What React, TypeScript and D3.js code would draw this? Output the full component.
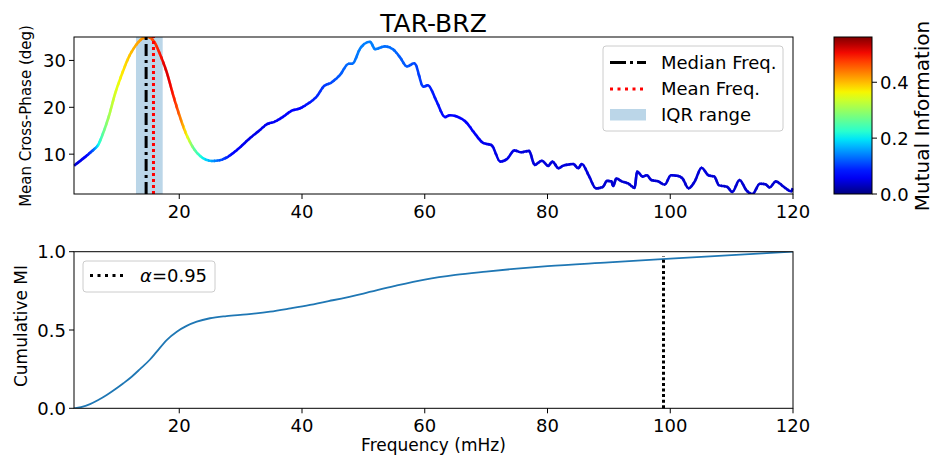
import React from "react";
import * as d3 from "d3";

// ---- data ----
const freq = [2.85, 3.6, 4.37, 5.2, 6.0, 6.8, 7.6, 8.6, 9.5, 10.6, 11.7, 12.8, 13.9, 14.8, 15.8, 16.9, 18.0, 19.0, 20.1, 21.2, 22.3, 23.7, 25.3, 26.6, 28.0, 29.4, 31.5, 33.0, 34.3, 35.5, 36.95, 38.2, 39.7, 41.0, 42.4, 43.5, 44.8, 46.2, 47.6, 48.2, 49.5, 51.1, 51.9, 53.5, 54.9, 56.0, 57.1, 58.3, 59.8, 60.5, 61.95, 63.3, 64.1, 66.6, 68.1, 69.5, 70.9, 72.3, 73.5, 74.6, 75.7, 77.0, 77.9, 79.1, 80.1, 80.8, 81.8, 82.5, 84.2, 85.0, 85.6, 86.7, 87.9, 89.0, 89.7, 90.4, 90.7, 91.2, 92.1, 93.2, 94.2, 94.6, 95.5, 96.2, 96.9, 98.0, 99.1, 100.1, 101.1, 102.0, 103.0, 104.0, 105.1, 106.2, 107.2, 107.9, 109.3, 110.1, 111.3, 112.4, 113.4, 114.6, 115.5, 116.2, 117.2, 118.6, 119.7, 120.0];
const phase = [7.55, 8.3, 9.1, 10.0, 10.9, 12.0, 14.5, 18.4, 22.7, 26.9, 30.5, 33.0, 34.6, 35.0, 34.2, 31.2, 27.3, 22.65, 18.0, 14.1, 11.3, 9.3, 8.55, 8.7, 9.5, 10.9, 13.4, 15.0, 16.4, 16.9, 18.0, 19.2, 19.8, 20.8, 22.3, 24.4, 25.3, 26.9, 29.3, 29.3, 32.6, 34.0, 32.4, 33.0, 32.3, 30.6, 28.7, 29.4, 24.4, 24.7, 21.2, 17.9, 18.3, 17.0, 14.5, 12.4, 11.9, 8.4, 9.1, 10.8, 10.4, 10.7, 7.7, 8.6, 7.5, 8.4, 7.0, 7.5, 7.9, 7.0, 7.9, 5.5, 2.7, 3.0, 4.3, 4.2, 3.2, 4.8, 4.2, 3.7, 2.8, 6.3, 5.2, 5.5, 4.5, 4.2, 3.5, 5.5, 5.4, 4.8, 2.7, 4.2, 7.1, 5.5, 5.2, 3.4, 3.0, 1.95, 4.5, 2.3, 1.5, 3.7, 3.6, 2.9, 4.2, 2.9, 2.1, 2.7];
const mutualInfo = [0.04, 0.045, 0.055, 0.08, 0.12, 0.2, 0.26, 0.31, 0.34, 0.37, 0.39, 0.41, 0.42, 0.44, 0.47, 0.5, 0.52, 0.5, 0.45, 0.37, 0.27, 0.21, 0.16, 0.12, 0.085, 0.06, 0.05, 0.052, 0.055, 0.058, 0.06, 0.065, 0.07, 0.08, 0.09, 0.1, 0.11, 0.12, 0.13, 0.13, 0.14, 0.14, 0.14, 0.13, 0.13, 0.12, 0.12, 0.11, 0.1, 0.09, 0.08, 0.075, 0.07, 0.065, 0.06, 0.055, 0.05, 0.05, 0.05, 0.05, 0.045, 0.045, 0.045, 0.045, 0.045, 0.045, 0.045, 0.045, 0.045, 0.045, 0.045, 0.045, 0.04, 0.04, 0.04, 0.04, 0.04, 0.04, 0.04, 0.04, 0.04, 0.045, 0.045, 0.045, 0.04, 0.04, 0.04, 0.045, 0.045, 0.04, 0.04, 0.04, 0.045, 0.045, 0.04, 0.04, 0.04, 0.04, 0.04, 0.04, 0.04, 0.04, 0.04, 0.04, 0.04, 0.04, 0.04, 0.04];

const cumFreq = [2.85, 4.0, 5.46, 6.8, 8.18, 9.5, 10.9, 12.2, 13.6, 15.2, 16.3, 17.95, 19.6, 21.2, 22.85, 25.0, 27.7, 31.0, 34.8, 38.1, 41.3, 45, 50, 55, 60, 65, 70, 75, 80, 90, 100, 110, 120];
const cumMI = [0, 0.008, 0.027, 0.053, 0.085, 0.12, 0.16, 0.2, 0.25, 0.31, 0.36, 0.436, 0.489, 0.526, 0.553, 0.575, 0.589, 0.6, 0.617, 0.638, 0.66, 0.69, 0.733, 0.78, 0.822, 0.852, 0.873, 0.892, 0.908, 0.932, 0.956, 0.978, 1.0];

const medianFreq = 14.6;
const meanFreq = 15.8;
const iqrRange = [12.95, 17.3];
const alphaFreq = 98.9;
const alphaTop = 0.97;
const freqDomain = [2.85, 120];
const miMax = 0.562;

const xTicks = [20, 40, 60, 80, 100, 120];
const phaseTicks = [10, 20, 30];
const cumTicks = [0, 0.5, 1.0];
const cumTickLabels = ["0.0", "0.5", "1.0"];
const cbTicks = [0, 0.2, 0.4];
const cbTickLabels = ["0.0", "0.2", "0.4"];
const legendTop = ["Median Freq.", "Mean Freq.", "IQR range"];

// ---- jet colormap ----
const jr = d3.scaleLinear().domain([0, 0.35, 0.66, 0.89, 1]).range([0, 0, 1, 1, 0.5]).clamp(true);
const jg = d3.scaleLinear().domain([0, 0.125, 0.375, 0.64, 0.91, 1]).range([0, 0, 1, 1, 0, 0]).clamp(true);
const jb = d3.scaleLinear().domain([0, 0.11, 0.34, 0.65, 1]).range([0.5, 1, 1, 0, 0]).clamp(true);
const jet = (t: number) => d3.rgb(255 * jr(t), 255 * jg(t), 255 * jb(t)).formatHex();

const FONT = "DejaVu Sans, Liberation Sans, sans-serif";

export default function App() {
  const L = 74, R = 793;
  const T1 = 37, B1 = 194;
  const T2 = 251.7, B2 = 408.3;
  const cbX = 834, cbW = 38;

  const x = d3.scaleLinear().domain(freqDomain).range([L, R]);
  const yP = d3.scaleLinear().domain(d3.extent(phase) as [number, number]).range([B1, T1]);
  const yC = d3.scaleLinear().domain([0, 1]).range([B2, T2]);
  const miScale = d3.scaleLinear().domain([0, miMax]).range([0, 1]);
  const yCb = d3.scaleLinear().domain([0, miMax]).range([B1, T1]);

  const pts = freq.map((f, i) => [f, phase[i]] as [number, number]);
  const lineP = d3.line<[number, number]>().x(d => x(d[0])).y(d => yP(d[1])).curve(d3.curveMonotoneX);
  const fullPath = lineP(pts) || "";

  // colored bands
  const bands: { x0: number; x1: number; c: string }[] = [];
  const SUB = 3;
  for (let i = 0; i < freq.length - 1; i++) {
    const xa = x(freq[i]), xb = x(freq[i + 1]);
    for (let k = 0; k < SUB; k++) {
      const t = (k + 0.5) / SUB;
      const m = mutualInfo[i] + (mutualInfo[i + 1] - mutualInfo[i]) * t;
      bands.push({ x0: xa + (xb - xa) * k / SUB, x1: xa + (xb - xa) * (k + 1) / SUB, c: jet(miScale(m)) });
    }
  }

  const cumPts = cumFreq.map((f, i) => [f, cumMI[i]] as [number, number]);
  const lineC = d3.line<[number, number]>().x(d => x(d[0])).y(d => yC(d[1])).curve(d3.curveMonotoneX);

  const gradStops = d3.range(0, 1.0001, 0.05);

  return (
    <svg width={940} height={459} style={{ position: "absolute", left: 0, top: 0, background: "#fff" }} fontFamily={FONT}>
      <defs>
        <clipPath id="plot1"><rect x={L} y={T1} width={R - L} height={B1 - T1} /></clipPath>
        <clipPath id="plot2"><rect x={L} y={T2} width={R - L} height={B2 - T2} /></clipPath>
        {bands.map((b, i) => (
          <clipPath key={i} id={"band" + i}>
            <rect x={b.x0 - 0.4} y={T1} width={b.x1 - b.x0 + 0.8} height={B1 - T1} />
          </clipPath>
        ))}
        <linearGradient id="jetGrad" x1="0" y1="1" x2="0" y2="0">
          {gradStops.map((t, i) => <stop key={i} offset={t} stopColor={jet(t)} />)}
        </linearGradient>
      </defs>

      {/* title */}
      <text x={(L + R) / 2} y={31.5} textAnchor="middle" fontSize={25}>TAR-BRZ</text>

      {/* ---- top plot ---- */}
      <rect x={x(iqrRange[0])} y={T1} width={x(iqrRange[1]) - x(iqrRange[0])} height={B1 - T1} fill="#1f77b4" fillOpacity={0.3} />
      {bands.map((b, i) => (
        <path key={i} d={fullPath} fill="none" stroke={b.c} strokeWidth={2.6} clipPath={`url(#band${i})`} />
      ))}
      <line x1={x(medianFreq)} x2={x(medianFreq)} y1={B1} y2={T1} stroke="#000" strokeWidth={3} strokeDasharray="12 4 3 4" />
      <line x1={x(meanFreq)} x2={x(meanFreq)} y1={B1} y2={T1} stroke="#ff0000" strokeWidth={3} strokeDasharray="3 3" />
      <rect x={L} y={T1} width={R - L} height={B1 - T1} fill="none" stroke="#000" strokeWidth={1} />
      {xTicks.map(t => (
        <g key={t}>
          <line x1={x(t)} x2={x(t)} y1={B1} y2={B1 + 5} stroke="#000" />
          <text x={x(t)} y={B1 + 24} textAnchor="middle" fontSize={18}>{t}</text>
        </g>
      ))}
      {phaseTicks.map(t => (
        <g key={t}>
          <line x1={L - 5} x2={L} y1={yP(t)} y2={yP(t)} stroke="#000" />
          <text x={L - 8} y={yP(t) + 6.5} textAnchor="end" fontSize={18}>{t}</text>
        </g>
      ))}
      <text transform={`translate(26,116) rotate(-90)`} textAnchor="middle" fontSize={15} dy="0.35em">Mean Cross-Phase (deg)</text>

      {/* top legend */}
      <rect x={603} y={46} width={180} height={85} rx={3} fill="#fff" fillOpacity={0.8} stroke="#cccccc" />
      <line x1={610} x2={646} y1={62.5} y2={62.5} stroke="#000" strokeWidth={3} strokeDasharray="16 4 3 4" />
      <text x={661} y={68.5} fontSize={18}>{legendTop[0]}</text>
      <line x1={610} x2={646} y1={89} y2={89} stroke="#ff0000" strokeWidth={3} strokeDasharray="3 4.5" />
      <text x={661} y={95} fontSize={18}>{legendTop[1]}</text>
      <rect x={610} y={109} width={36} height={11.5} fill="#1f77b4" fillOpacity={0.3} />
      <text x={661} y={121} fontSize={18}>{legendTop[2]}</text>

      {/* colorbar */}
      <rect x={cbX} y={T1} width={cbW} height={B1 - T1} fill="url(#jetGrad)" stroke="#000" strokeWidth={1} />
      {cbTicks.map((t, i) => (
        <g key={t}>
          <line x1={cbX + cbW} x2={cbX + cbW + 5} y1={yCb(t)} y2={yCb(t)} stroke="#000" />
          <text x={cbX + cbW + 8} y={yCb(t) + 6.5} fontSize={18}>{cbTickLabels[i]}</text>
        </g>
      ))}
      <text transform={`translate(922,116) rotate(-90)`} textAnchor="middle" fontSize={20} dy="0.35em">Mutual Information</text>

      {/* ---- bottom plot ---- */}
      <path d={lineC(cumPts) || ""} fill="none" stroke="#1f77b4" strokeWidth={1.8} clipPath="url(#plot2)" />
      <line x1={x(alphaFreq)} x2={x(alphaFreq)} y1={yC(0)} y2={yC(alphaTop)} stroke="#000" strokeWidth={3} strokeDasharray="3 2.6" />
      <rect x={L} y={T2} width={R - L} height={B2 - T2} fill="none" stroke="#000" strokeWidth={1} />
      {xTicks.map(t => (
        <g key={t}>
          <line x1={x(t)} x2={x(t)} y1={B2} y2={B2 + 5} stroke="#000" />
          <text x={x(t)} y={B2 + 24} textAnchor="middle" fontSize={18}>{t}</text>
        </g>
      ))}
      {cumTicks.map((t, i) => (
        <g key={t}>
          <line x1={L - 5} x2={L} y1={yC(t)} y2={yC(t)} stroke="#000" />
          <text x={L - 8} y={yC(t) + 6.5} textAnchor="end" fontSize={18}>{cumTickLabels[i]}</text>
        </g>
      ))}
      <text transform={`translate(21,326) rotate(-90)`} textAnchor="middle" fontSize={17} dy="0.35em">Cumulative MI</text>
      <text x={(L + R) / 2} y={451} textAnchor="middle" fontSize={17}>Frequency (mHz)</text>

      {/* bottom legend */}
      <rect x={83} y={261} width={132} height={31} rx={3} fill="#fff" fillOpacity={0.8} stroke="#cccccc" />
      <line x1={90} x2={124} y1={275.5} y2={275.5} stroke="#000" strokeWidth={3} strokeDasharray="3 4.5" />
      <text x={140} y={282} fontSize={18}><tspan fontStyle="italic">α</tspan>=0.95</text>
    </svg>
  );
}
